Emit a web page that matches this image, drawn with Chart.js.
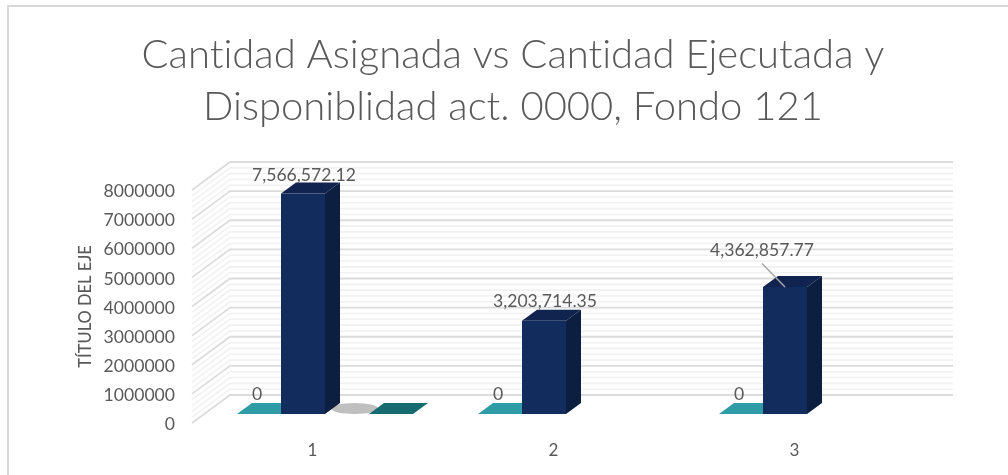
<!DOCTYPE html>
<html>
<head>
<meta charset="utf-8">
<style>html,body{margin:0;padding:0;background:#fff}canvas{display:block}</style>
<script src="https://cdn.jsdelivr.net/npm/chart.js@4"></script>
</head>
<body>
<canvas id="c" width="1008" height="475"></canvas>
<script>
const titleLines = ["Cantidad Asignada vs Cantidad Ejecutada y", "Disponiblidad act. 0000, Fondo 121"];
const axisTitle = "TÍTULO DEL EJE";
const categories = ["1", "2", "3"];
const serieA = [0, 0, 0];
const serieB = [7566572.12, 3203714.35, 4362857.77];
const serieC = [0, null, null];
const serieD = [0, null, null];
const yMax = 8000000;
const yStep = 1000000;

const TEXT = "#595959", FONT = "Lato, 'Open Sans', sans-serif";
const WALL = {dx: 38, dy: -28};      // back wall offset from the front plane
const PLANE = {dx: 12.5, dy: -9};    // plane the bars stand in
const BAR3D = {dx: 15, dy: -11};     // depth of a bar
const LABEL_OFF = [[1, -18.5], [1, -19], [-23, -36.5]];

function faces(chart) {
  const ctx = chart.ctx;
  const list = [];
  chart.data.datasets.forEach((ds, i) => {
    chart.getDatasetMeta(i).data.forEach((el, j) => {
      if (ds.data[j] !== null) list.push({ds, el, v: ds.data[j]});
    });
  });
  list.sort((a, b) => a.v - b.v);
  list.forEach(({ds, el}) => {
    const p = el.getProps(['x', 'y', 'base', 'width'], true);
    const l = p.x - p.width / 2, r = p.x + p.width / 2, t = p.y, b = p.base;
    if (ds.shape === 'ellipse') {
      ctx.fillStyle = ds.backgroundColor;
      ctx.beginPath();
      ctx.ellipse(p.x + BAR3D.dx / 2, t + BAR3D.dy / 2, p.width / 2 + 1.5, -BAR3D.dy / 2, 0, 0, Math.PI * 2);
      ctx.fill();
      return;
    }
    ctx.fillStyle = ds.topColor;
    ctx.beginPath();
    ctx.moveTo(l, t); ctx.lineTo(r, t);
    ctx.lineTo(r + BAR3D.dx, t + BAR3D.dy); ctx.lineTo(l + BAR3D.dx, t + BAR3D.dy);
    ctx.closePath(); ctx.fill();
    if (b - t > 0.5) {
      ctx.fillStyle = ds.sideColor;
      ctx.beginPath();
      ctx.moveTo(r, t); ctx.lineTo(r + BAR3D.dx, t + BAR3D.dy);
      ctx.lineTo(r + BAR3D.dx, b + BAR3D.dy); ctx.lineTo(r, b);
      ctx.closePath(); ctx.fill();
    }
  });
}

const scene = {
  id: 'scene',
  afterLayout(chart) {
    // the title is centred on the whole frame, not on the plot
    chart.titleBlock.left = 0;
    chart.titleBlock.right = 1026;
    chart.ctx.textRendering = 'optimizeSpeed';
  },
  beforeDraw(chart) {
    const ctx = chart.ctx, a = chart.chartArea, y = chart.scales.y;
    ctx.save();
    ctx.strokeStyle = "#d9d9d9"; ctx.lineWidth = 2;
    ctx.beginPath(); ctx.moveTo(8, 475); ctx.lineTo(8, 6); ctx.lineTo(1008, 6); ctx.stroke();
    const line = (py, color, w) => {
      ctx.strokeStyle = color; ctx.lineWidth = w;
      ctx.beginPath();
      ctx.moveTo(a.left, py); ctx.lineTo(a.left + WALL.dx, py + WALL.dy);
      ctx.lineTo(a.right + WALL.dx, py + WALL.dy);
      ctx.stroke();
    };
    for (let v = 0; v < yMax; v += yStep / 5) {
      if (v % yStep !== 0) line(y.getPixelForValue(v), "#f1f1f1", 1.6);
    }
    y.ticks.forEach(t => line(y.getPixelForValue(t.value), "#dcdcdc", 1.8));
    ctx.restore();
  },
  beforeDatasetsDraw(chart) {
    const ctx = chart.ctx;
    ctx.save();
    ctx.translate(PLANE.dx, PLANE.dy);
    faces(chart);
  },
  afterDatasetsDraw(chart) {
    const ctx = chart.ctx;
    ctx.restore();
    ctx.save();
    ctx.font = "17.6px " + FONT;
    ctx.fillStyle = TEXT;
    ctx.textAlign = "center"; ctx.textBaseline = "middle";
    chart.data.datasets.forEach((ds, i) => {
      if (!ds.showLabel) return;
      chart.getDatasetMeta(i).data.forEach((el, j) => {
        const v = ds.data[j];
        if (v === null) return;
        const p = el.getProps(['x', 'y'], true);
        const px = p.x + PLANE.dx, py = p.y + PLANE.dy;
        const off = v === 0 ? [-2, -20] : LABEL_OFF[j];
        const txt = v === 0 ? "0" : v.toLocaleString('en-US', {minimumFractionDigits: 2});
        if (v !== 0 && off[1] < -30) {
          ctx.strokeStyle = "#a6a6a6"; ctx.lineWidth = 1.5;
          ctx.beginPath();
          ctx.moveTo(px + off[0], py + off[1] + 13);
          ctx.lineTo(px, py);
          ctx.stroke();
        }
        ctx.fillText(txt, px + off[0], py + off[1]);
      });
    });
    ctx.restore();
  }
};

const mk = (label, data, front, top, side, extra) => Object.assign({
  label, data, backgroundColor: front, topColor: top, sideColor: side, borderWidth: 0
}, extra || {});

new Chart(document.getElementById('c'), {
  type: 'bar',
  data: {
    labels: categories,
    datasets: [
      mk("Serie 1", serieA, "#2e9ca6", "#2e9ca6", "#247c84", {showLabel: true}),
      mk("Serie 2", serieB, "#132c5e", "#10244f", "#0d1f40", {showLabel: true}),
      mk("Serie 3", serieC, "#bfbfbf", "#bfbfbf", "#a0a0a0", {shape: 'ellipse'}),
      mk("Serie 4", serieD, "#156b6f", "#156b6f", "#105558")
    ]
  },
  options: {
    responsive: false,
    animation: false,
    clip: false,
    events: [],
    layout: {padding: {left: 0, right: 93, top: 0, bottom: 0}},
    datasets: {bar: {barPercentage: 1, categoryPercentage: 176 / 241, clip: false}},
    plugins: {
      legend: {display: false},
      tooltip: {enabled: false},
      title: {
        display: true,
        text: titleLines,
        color: TEXT,
        align: 'center',
        font: {family: FONT, size: 40, weight: '300', lineHeight: 1.3},
        padding: {top: 29, bottom: 57}
      }
    },
    scales: {
      x: {
        grid: {display: false},
        border: {display: false},
        ticks: {color: TEXT, font: {family: FONT, size: 17}, padding: 9, maxRotation: 0},
        afterFit(s) { s.height = 52; }
      },
      y: {
        min: 0, max: yMax,
        grid: {display: false, drawTicks: false},
        border: {display: false},
        ticks: {stepSize: yStep, color: TEXT, font: {family: FONT, size: 17.6}, padding: 17, labelOffset: 1.5,
                callback: v => String(v)},
        title: {display: true, text: axisTitle, color: TEXT,
                font: {family: FONT, size: 16.5, weight: '500', lineHeight: 1.2},
                padding: {top: 76, bottom: 0}},
        afterFit(s) { s.width = 192; }
      }
    }
  },
  plugins: [scene]
});
</script>
</body>
</html>
